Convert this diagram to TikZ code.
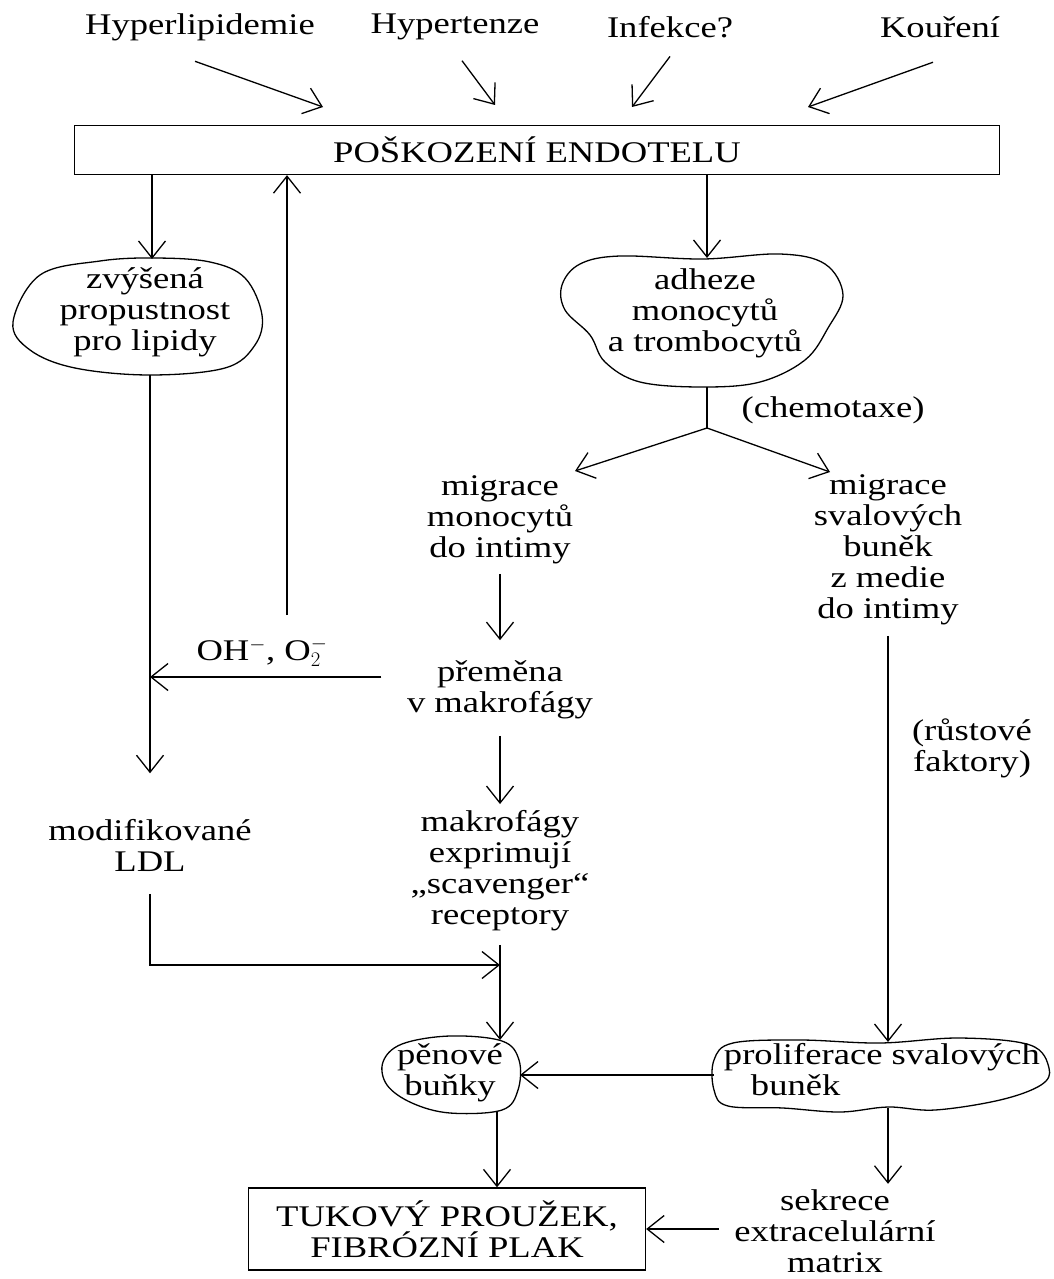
\documentclass[tikz,border=0pt]{standalone}
\usepackage{fontspec}
\setmainfont[FakeStretch=1.22]{Liberation Serif}
\usetikzlibrary{arrows.meta}

\tikzset{
  txt/.style={align=center, inner sep=0pt, font=\fontsize{30}{31}\selectfont},
  arr/.style={-{Straight Barb[length=17pt,width=27pt]}},
}

\begin{document}
\begin{tikzpicture}[x=1pt,y=-1pt,line width=1.3pt]
  \useasboundingbox (0,0) rectangle (1053,1279);

  % rizikove faktory
  \node[txt] (hl) at (200,27) {Hyperlipidemie};
  \node[txt] (ht) at (455,27) {Hypertenze};
  \node[txt] (inf) at (670,27) {Infekce?};
  \node[txt] (ku) at (940,27) {Kouření};

  \node[txt, draw, minimum width=925pt, minimum height=49pt] (ph) at (537,150) {POŠKOZENÍ ENDOTELU};

  \coordinate (hl-to) at (323,107);
  \coordinate (ht-to) at (495,105);
  \coordinate (inf-to) at (632,107);
  \coordinate (ku-to) at (808,107);
  \draw[arr] (hl.south) ++(-5,20) -- (hl-to);
  \draw[arr] (ht.south) ++(7,20) -- (ht-to);
  \draw[arr] (inf.south) ++(0,18) -- (inf-to);
  \draw[arr] (ku.south) ++(-7,24) -- (ku-to);

  % levy sloupec
  \node[txt] (zv) at (145,312) {zvýšená\\propustnost\\pro lipidy};
  \draw plot[smooth cycle, tension=0.6] coordinates {(13,322) (40,275) (100,261) (155,258) (210,262) (245,278)
    (262,315) (255,345) (225,368) (150,375) (75,368) (30,350)};
  \coordinate (zv-t) at (152,259);
  \coordinate (zv-b) at (150,375);

  \node[txt] (ldl) at (150,845) {modifikované\\LDL};
  \node[txt] (oh) at (262,652) {OH$^{-}$, O$_2^{-}$};
  \coordinate (ox) at (287,615);

  % prostredni sloupec
  \node[txt] (ad) at (705,313) {adheze\\monocytů\\a trombocytů};
  \draw plot[smooth cycle, tension=0.6] coordinates {(562,285) (580,264) (620,256) (703,259) (780,254) (825,264)
    (843,295) (828,328) (805,360) (760,382) (703,387) (640,382) (605,362) (590,335) (565,310)};
  \coordinate (ad-t) at (707,258);
  \coordinate (ad-b) at (707,387);
  \coordinate (split) at (707,428);
  \node[txt] (ch) at (833,410) {(chemotaxe)};

  \node[txt] (mm) at (500,520) {migrace\\monocytů\\do intimy};
  \node[txt] (pr) at (500,690) {přeměna\\v makrofágy};
  \node[txt] (mx) at (500,871) {makrofágy\\exprimují\\„scavenger“\\receptory};

  \node[txt] (pe) at (450,1073) {pěnové\\buňky};
  \draw plot[smooth cycle, tension=0.6] coordinates {(383,1062) (402,1044) (450,1036) (502,1041) (519,1060)
    (518,1090) (502,1110) (450,1113) (412,1103) (387,1085)};
  \coordinate (pe-t) at (500,1040);
  \coordinate (pe-r) at (520,1075);
  \coordinate (pe-b) at (497,1112);

  \node[txt, draw, minimum width=397pt, minimum height=82pt] (tk) at (447,1229) {TUKOVÝ PROUŽEK,\\FIBRÓZNÍ PLAK};

  % pravy sloupec
  \node[txt] (ms) at (888,550) {migrace\\svalových\\buněk\\z medie\\do intimy};
  \node[txt] (rf) at (972,748) {(růstové\\faktory)};

  \node[txt, align=left] (pf) at (882,1070) {proliferace svalových\\\hspace*{27pt}buněk};
  \draw plot[smooth cycle, tension=0.6] coordinates {(714,1060) (733,1043) (800,1040) (880,1043) (960,1038)
    (1030,1045) (1049,1068) (1041,1085) (1000,1100) (935,1110) (888,1107) (840,1112) (783,1108) (728,1106) (714,1090)};
  \coordinate (pf-t) at (888,1042);
  \coordinate (pf-l) at (714,1075);
  \coordinate (pf-b) at (888,1108);

  \node[txt] (sk) at (835,1231) {sekrece\\extracelulární\\matrix};

  % sipky
  \draw[arr] (ph.south -| zv-t) -- (zv-t);
  \draw[arr] (ox) -- (ox |- ph.south);
  \draw[arr] (ph.south -| ad-t) -- (ad-t);
  \draw (ad-b) -- (split);
  \draw[arr] (split) -- (575,471);
  \draw[arr] (split) -- (830,472);

  \draw[arr, shorten <=9pt, shorten >=20pt] (mm) -- (pr);
  \draw[arr] (pr.west |- 0,677) ++(-25,0) -- (zv-b |- 0,677);
  \draw[arr, shorten >=45pt] (zv-b) -- (zv-b |- ldl.north);
  \draw[arr] (ldl.south) ++(0,22) |- (mx.south |- 0,965);
  \draw[arr, shorten <=16pt, shorten >=6pt] (pr) -- (mx);
  \draw[arr] (mx.south) ++(0,13) -- (pe-t);

  \draw[arr] (ms.south) ++(0,10) -- (pf-t);
  \draw[arr] (pf-l) -- (pe-r);
  \draw[arr] (pe-b) -- (pe-b |- tk.north);
  \draw[arr, shorten >=5pt] (pf-b) -- (pf-b |- sk.north);
  \draw[arr] (sk.west |- tk.east) ++(-15,0) -- (tk.east);
\end{tikzpicture}
\end{document}
